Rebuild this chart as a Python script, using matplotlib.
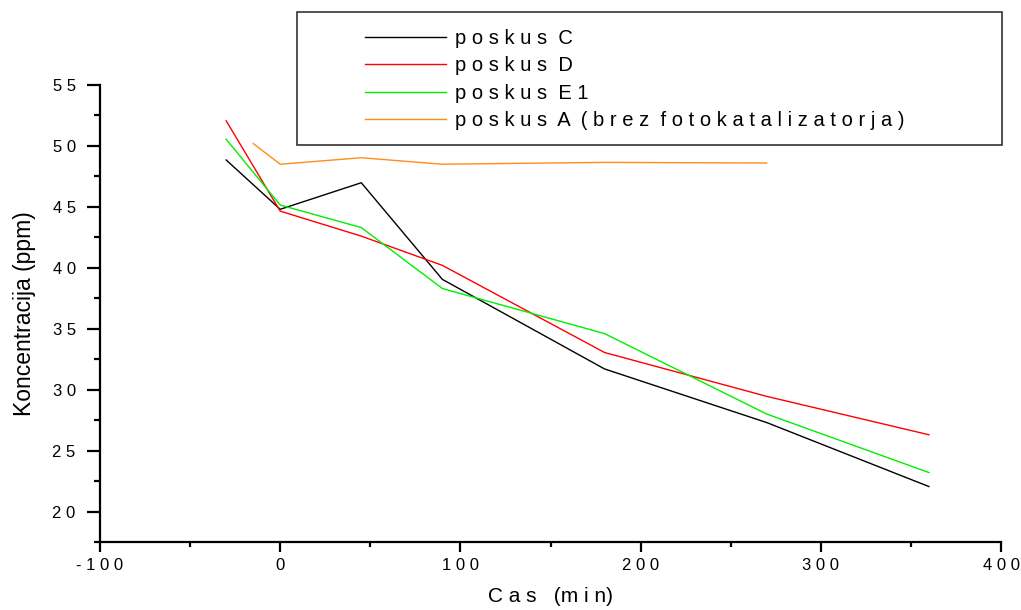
import matplotlib
matplotlib.use("Agg")
import matplotlib.pyplot as plt
from matplotlib.patches import Rectangle
from matplotlib.ticker import MultipleLocator

# data
time_c = [-30, 0, 45, 90, 180, 270, 360]
conc_c = [48.85, 44.8, 46.98, 39.05, 31.7, 27.3, 22.05]

time_d = [-30, 0, 45, 90, 180, 270, 360]
conc_d = [52.07, 44.65, 42.6, 40.2, 33.05, 29.45, 26.3]

time_e1 = [-30, 0, 45, 90, 180, 270, 360]
conc_e1 = [50.55, 45.15, 43.3, 38.3, 34.6, 28.0, 23.2]

time_a = [-15, 0, 45, 90, 180, 270]
conc_a = [50.2, 48.5, 49.03, 48.5, 48.65, 48.6]

labels = ["p o s k u s  C", "p o s k u s  D", "p o s k u s  E 1",
          "p o s k u s  A  ( b r e z  f o t o k a t a l i z a t o r j a )"]

xticks = [-100, 0, 100, 200, 300, 400]
xticklabels = ["- 1 0 0", "0", "1 0 0", "2 0 0", "3 0 0", "4 0 0"]
yticks = [20, 25, 30, 35, 40, 45, 50, 55]
yticklabels = ["2 0", "2 5", "3 0", "3 5", "4 0", "4 5", "5 0", "5 5"]


def main():
    plt.rcParams['font.family'] = ['Liberation Sans', 'DejaVu Sans']
    W, H = 1021, 610
    fig = plt.figure(figsize=(W / 100, H / 100), dpi=100)
    ax = fig.add_axes([100 / W, 1 - 542 / H, 901 / W, 457 / H])

    l1, = ax.plot(time_c, conc_c, color='black', lw=1)
    l2, = ax.plot(time_d, conc_d, color='#ff0000', lw=1)
    l3, = ax.plot(time_e1, conc_e1, color='#00ee00', lw=1)
    l4, = ax.plot(time_a, conc_a, color='#ff8c1a', lw=1)

    ax.set_xlim(-100, 400)
    ax.set_ylim(17.5, 55)
    ax.spines['top'].set_visible(False)
    ax.spines['right'].set_visible(False)
    ax.spines['left'].set_linewidth(1.6)
    ax.spines['bottom'].set_linewidth(1.6)

    ax.set_xticks(xticks)
    ax.set_xticklabels(xticklabels, fontsize=12)
    ax.set_yticks(yticks)
    ax.set_yticklabels(yticklabels, fontsize=12)
    ax.xaxis.set_minor_locator(MultipleLocator(50))
    ax.yaxis.set_minor_locator(MultipleLocator(2.5))
    ax.tick_params(axis='x', which='major', length=7.5, width=1.6, pad=4)
    ax.tick_params(axis='x', which='minor', length=3.5, width=1.6)
    ax.tick_params(axis='y', which='major', length=9.5, width=1.6, pad=8)
    ax.tick_params(axis='y', which='minor', length=4.5, width=1.6)

    ax.set_xlabel("C a s   (m i n)", fontsize=15, labelpad=10)
    ax.set_ylabel("Koncentracija (ppm)", fontsize=16.5, labelpad=12)

    # legend frame + entries
    fig.add_artist(Rectangle((297 / W, 1 - 145 / H), 705 / W, 133 / H,
                             transform=fig.transFigure, fill=False,
                             edgecolor='#333333', lw=1.2))
    fig.legend([l1, l2, l3, l4], labels, loc='upper left',
               bbox_to_anchor=(365 / W, 1 - 29 / H), frameon=False,
               fontsize=14.5, handlelength=4.0, handletextpad=0.45,
               labelspacing=0.42, borderpad=0, borderaxespad=0)

    fig.savefig("out.png", dpi=100)


if __name__ == "__main__":
    main()
